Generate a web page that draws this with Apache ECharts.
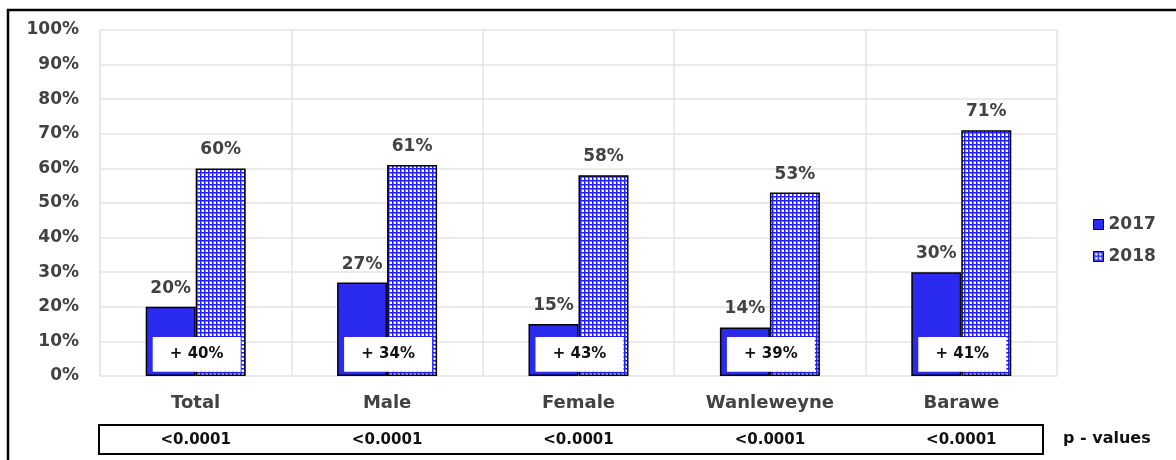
<!DOCTYPE html>
<html>
<head>
<meta charset="utf-8">
<script src="https://cdn.jsdelivr.net/npm/echarts@6/dist/echarts.min.js"></script>
<style>
  html, body { margin: 0; padding: 0; background: #fff; }
  #chart { width: 1176px; height: 460px; }
</style>
</head>
<body>
<div id="chart"></div>
<script>
// Coverage by group, 2017 vs 2018
const categories = ['Total', 'Male', 'Female', 'Wanleweyne', 'Barawe'];
const values2017 = [20, 27, 15, 14, 30];
const values2018 = [60, 61, 58, 53, 71];
const increases = [40, 34, 43, 39, 41];
const pValues = ['<0.0001', '<0.0001', '<0.0001', '<0.0001', '<0.0001'];
const yTicks = [0, 10, 20, 30, 40, 50, 60, 70, 80, 90, 100];

const FONT = '"DejaVu Sans", sans-serif';
const BLUE = '#2b2bf0';
const GREY_TEXT = '#424242';

// Blue cross-hatch tile used as the 2018 fill
function gridPattern() {
  const c = document.createElement('canvas');
  c.width = 4; c.height = 4;
  const g = c.getContext('2d');
  g.fillStyle = '#ffffff';
  g.fillRect(0, 0, 4, 4);
  g.fillStyle = '#8080ff';
  g.fillRect(1, 0, 1, 4);
  g.fillRect(0, 1, 4, 1);
  g.fillStyle = '#2020ff';
  g.fillRect(0, 0, 1, 4);
  g.fillRect(0, 0, 4, 1);
  return c;
}
const hatch = { image: gridPattern(), repeat: 'repeat' };

const chart = echarts.init(document.getElementById('chart'), null, { renderer: 'canvas' });

const valueLabel = {
  show: true,
  position: 'top',
  distance: 10,
  formatter: '{c}%',
  fontFamily: FONT,
  fontWeight: 'bold',
  fontSize: 17,
  color: GREY_TEXT
};

chart.setOption({
  animation: false,
  backgroundColor: '#ffffff',
  grid: { left: 100, right: 119, top: 30, bottom: 84, containLabel: false },
  legend: {
    data: ['2017', '2018'],
    orient: 'vertical',
    left: 1088,
    top: 211,
    itemWidth: 10,
    itemHeight: 10,
    itemGap: 15,
    icon: 'rect',
    itemStyle: { borderColor: '#000', borderWidth: 1 },
    textStyle: { fontFamily: FONT, fontWeight: 'bold', fontSize: 17, color: GREY_TEXT }
  },
  xAxis: [
    {
      type: 'category',
      data: categories,
      axisLine: { show: false },
      axisTick: { show: false },
      splitLine: { show: true, lineStyle: { color: '#e3e3e3', width: 1.5 } },
      axisLabel: {
        margin: 18,
        fontFamily: FONT,
        fontWeight: 'bold',
        fontSize: 18,
        color: GREY_TEXT
      }
    },
    {
      type: 'category',
      data: pValues,
      position: 'bottom',
      axisLine: { show: false },
      axisTick: { show: false },
      splitLine: { show: false },
      axisLabel: {
        margin: 57,
        fontFamily: FONT,
        fontWeight: 'bold',
        fontSize: 15,
        color: '#111'
      }
    }
  ],
  yAxis: {
    type: 'value',
    min: yTicks[0],
    max: yTicks[yTicks.length - 1],
    interval: 10,
    axisLine: { show: true, lineStyle: { color: '#e6e6e6', width: 1.5 } },
    axisTick: { show: false },
    splitLine: { show: true, lineStyle: { color: '#e3e3e3', width: 1.5 } },
    axisLabel: {
      margin: 21,
      formatter: '{value}%',
      fontFamily: FONT,
      fontWeight: 'bold',
      fontSize: 17,
      color: GREY_TEXT
    }
  },
  series: [
    {
      name: '2017',
      type: 'bar',
      data: values2017,
      barWidth: 50,
      barGap: '0%',
      itemStyle: { color: BLUE, borderColor: '#000', borderWidth: 1.5 },
      label: valueLabel,
      z: 2
    },
    {
      name: '2018',
      type: 'bar',
      data: values2018,
      barWidth: 50,
      barGap: '0%',
      itemStyle: { color: hatch, borderColor: '#000', borderWidth: 1.5 },
      label: valueLabel,
      z: 2
    },
    {
      // "+ N%" change boxes sitting across the foot of each pair of bars
      name: 'change',
      type: 'custom',
      data: increases.map((v, i) => [i, v]),
      z: 5,
      renderItem: function (params, api) {
        const top = api.coord([api.value(0), 11.3]);
        const bottom = api.coord([api.value(0), 1.2]);
        const w = 88;
        const cx = top[0] + 1;
        return {
          type: 'group',
          children: [
            {
              type: 'rect',
              shape: { x: cx - w / 2, y: top[1], width: w, height: bottom[1] - top[1] },
              style: {
                fill: '#ffffff',
                shadowBlur: 3,
                shadowColor: 'rgba(0,0,0,0.15)',
                shadowOffsetX: 1,
                shadowOffsetY: 0
              }
            },
            {
              type: 'text',
              style: {
                x: cx,
                y: (top[1] + bottom[1]) / 2,
                text: '+ ' + api.value(1) + '%',
                fill: '#111',
                font: 'bold 15px ' + FONT,
                align: 'center',
                verticalAlign: 'middle'
              }
            }
          ]
        };
      }
    }
  ],
  graphic: [
    {
      // outer frame
      type: 'rect',
      shape: { x: 8, y: 10, width: 1200, height: 480 },
      style: { fill: 'none', stroke: '#000', lineWidth: 2.5 },
      silent: true
    },
    {
      // p-value table outline
      type: 'rect',
      shape: { x: 99, y: 425, width: 944, height: 29 },
      style: { fill: 'none', stroke: '#000', lineWidth: 2 },
      silent: true
    },
    {
      type: 'text',
      left: 1063,
      top: 431,
      style: {
        text: 'p - values',
        fill: '#111',
        font: 'bold 16px ' + FONT
      }
    }
  ]
});
</script>
</body>
</html>
